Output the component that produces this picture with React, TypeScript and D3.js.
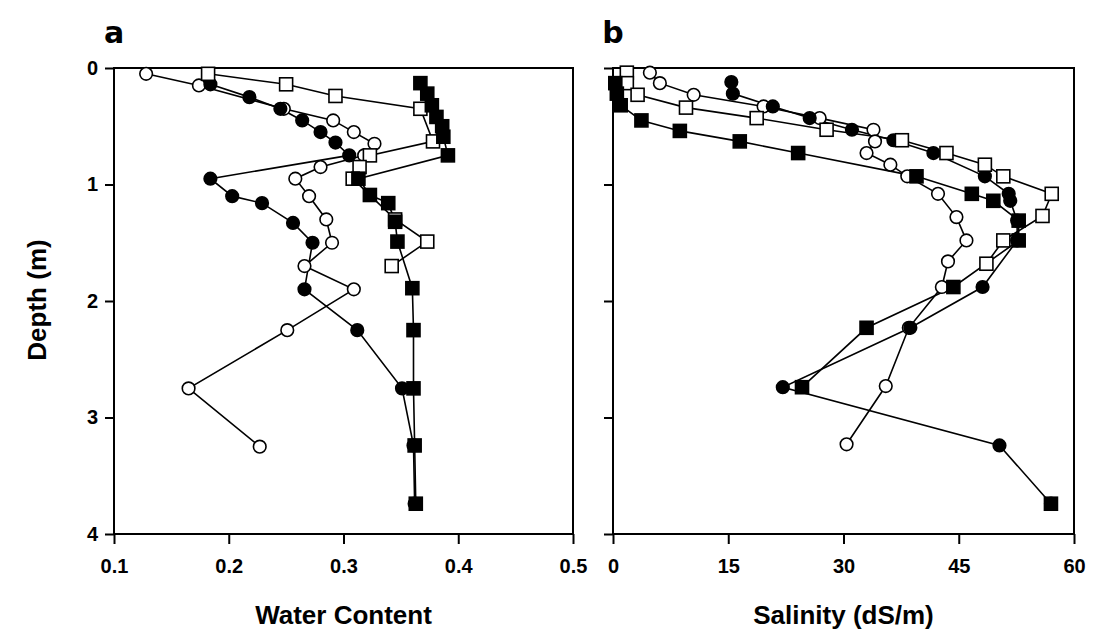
import React, { useEffect, useRef } from 'react';
import * as d3 from 'd3';

// axis ticks
const depthTicks = [0, 1, 2, 3, 4];
const waterTicks = [0.1, 0.2, 0.3, 0.4, 0.5];
const salinityTicks = [0, 15, 30, 45, 60];

// panel a: water content profiles, [depth (m), value]
const wcOpenCircles: [number, number | null][] = [
  [0.05, 0.128], [0.15, 0.174], [0.35, 0.248], [0.45, 0.291], [0.55, 0.309],
  [0.65, 0.327], [0.75, 0.318], [0.85, 0.28], [0.95, 0.258], [1.1, 0.27],
  [1.3, 0.285], [1.5, 0.29], [1.7, 0.266], [1.9, 0.309], [2.25, 0.251],
  [2.75, 0.165], [3.25, 0.227],
];
const wcOpenSquares: [number, number | null][] = [
  [0.05, 0.182], [0.14, 0.25], [0.24, 0.293], [0.35, 0.367], [0.63, 0.378],
  [0.75, 0.323], [0.85, 0.314], [0.95, 0.308], [1.3, 0.345], [1.49, 0.373],
  [1.7, 0.342],
];
const wcFilledCircles: [number, number | null][] = [
  [0.14, 0.184], [0.25, 0.218], [0.35, 0.245], [0.45, 0.264], [0.55, 0.28],
  [0.64, 0.293], [0.75, 0.305], [0.95, 0.184], [1.1, 0.203], [1.16, 0.229],
  [1.33, 0.256], [1.5, 0.273], [1.9, 0.266], [2.25, 0.312], [2.75, 0.351],
  [3.24, 0.361], [3.74, 0.362],
];
const wcFilledSquares: [number, number | null][] = [
  [0.13, 0.367], [0.22, 0.373], [0.32, 0.377], [0.42, 0.381], [0.5, 0.386],
  [0.59, 0.387], [0.75, 0.391], [0.95, 0.313], [1.09, 0.323], [1.16, 0.339],
  [1.32, 0.345], [1.49, 0.347], [1.89, 0.36], [2.25, 0.361], [2.75, 0.361],
  [3.24, 0.362], [3.74, 0.363],
];

// panel b: salinity profiles (dS/m)
const salOpenCircles: [number, number | null][] = [
  [0.04, 4.8], [0.13, 6.1], [0.23, 10.5], [0.33, 19.6], [0.43, 26.9],
  [0.53, 33.9], [0.63, 34.1], [0.73, 33.0], [0.83, 36.1], [0.93, 38.3],
  [1.08, 42.3], [1.28, 44.7], [1.48, 46.0], [1.66, 43.6], [1.88, 42.8],
  [2.23, 38.5], [2.73, 35.5], [3.23, 30.4],
];
const salOpenSquares: [number, number | null][] = [
  [0.04, 1.8], [0.13, 1.8], [0.23, 3.2], [0.34, 9.5], [0.43, 18.7],
  [0.53, 27.8], [0.62, 37.6], [0.73, 43.4], [0.83, 48.4], [0.93, 50.8],
  [1.08, 57.1], [1.27, 55.9], [1.48, 50.8], [1.68, 48.6],
];
const salFilledCircles: [number, number | null][] = [
  [0.12, 15.4], [0.22, 15.6], [0.33, 20.8], [0.43, 25.6], [0.53, 31.1],
  [0.62, 36.5], [0.73, 41.7], [0.93, 48.4], [1.08, 51.5], [1.14, 51.7],
  [1.31, 52.6], [1.48, 52.6], [1.88, 48.1], [2.23, 38.7], [2.74, 22.1],
  [3.24, 50.3], [3.74, 57.0],
];
const salFilledSquares: [number, number | null][] = [
  [0.13, 0.3], [0.22, 0.5], [0.32, 1.0], [0.45, 3.7], [0.54, 8.7],
  [0.63, 16.5], [0.73, 24.1], [0.93, 39.5], [1.08, 46.7], [1.14, 49.5],
  [1.31, 52.8], [1.48, 52.8], [1.88, 44.3], [2.23, 33.0], [2.74, 24.6],
  [3.24, null], [3.74, 57.0],
];

const FONT = 'Liberation Sans, Arial, Helvetica, sans-serif';
const TOP = 68;
const BOTTOM = 534;

type Series = { data: [number, number | null][]; shape: 'circle' | 'square'; filled: boolean };

function drawPanel(
  svg: d3.Selection<SVGSVGElement, unknown, null, undefined>,
  opts: {
    left: number; right: number; domain: [number, number]; ticks: number[];
    fmt: (d: number) => string; title: string; letter: string; depthLabels: boolean;
    series: Series[];
  }
) {
  const x = d3.scaleLinear().domain(opts.domain).range([opts.left, opts.right]);
  const y = d3.scaleLinear().domain([0, 4]).range([TOP, BOTTOM]);
  const g = svg.append('g');

  // frame
  g.append('rect')
    .attr('x', opts.left).attr('y', TOP)
    .attr('width', opts.right - opts.left).attr('height', BOTTOM - TOP)
    .attr('fill', 'none').attr('stroke', '#000').attr('stroke-width', 2);

  const xAxis = g.append('g')
    .attr('transform', `translate(0,${BOTTOM})`)
    .call(d3.axisBottom(x).tickValues(opts.ticks).tickSize(10).tickPadding(15).tickFormat((d) => opts.fmt(+d)));
  const yAxis = g.append('g')
    .attr('transform', `translate(${opts.left},0)`)
    .call(d3.axisLeft(y).tickValues(depthTicks).tickSize(9).tickPadding(7)
      .tickFormat((d) => (opts.depthLabels ? String(d) : '')));
  [xAxis, yAxis].forEach((ax) => {
    ax.select('.domain').remove();
    ax.selectAll('line').attr('stroke', '#000').attr('stroke-width', 2);
    ax.selectAll('text').attr('fill', '#000').attr('font-family', FONT)
      .attr('font-weight', 'bold').attr('font-size', 20);
  });

  const line = d3.line<[number, number | null]>()
    .defined((d) => d[1] != null)
    .x((d) => x(d[1] as number))
    .y((d) => y(d[0]));

  opts.series.forEach((s) => {
    g.append('path').attr('d', line(s.data)).attr('fill', 'none')
      .attr('stroke', '#000').attr('stroke-width', 1.6);
  });

  opts.series.forEach((s) => {
    const pts = s.data.filter((d) => d[1] != null);
    const fill = s.filled ? '#000' : '#fff';
    if (s.shape === 'circle') {
      g.selectAll(null).data(pts).enter().append('circle')
        .attr('cx', (d) => x(d[1] as number)).attr('cy', (d) => y(d[0]))
        .attr('r', 6.3).attr('fill', fill).attr('stroke', '#000').attr('stroke-width', 1.6);
    } else {
      g.selectAll(null).data(pts).enter().append('rect')
        .attr('x', (d) => x(d[1] as number) - 6.5).attr('y', (d) => y(d[0]) - 6.5)
        .attr('width', 13).attr('height', 13)
        .attr('fill', fill).attr('stroke', '#000').attr('stroke-width', 1.6);
    }
  });

  g.append('text')
    .attr('x', (opts.left + opts.right) / 2).attr('y', 624)
    .attr('text-anchor', 'middle').attr('font-family', FONT)
    .attr('font-weight', 'bold').attr('font-size', 26).text(opts.title);

  g.append('text')
    .attr('x', opts.left).attr('y', 43)
    .attr('text-anchor', 'middle').attr('font-family', 'DejaVu Sans, sans-serif')
    .attr('font-weight', 'bold').attr('font-size', 30).text(opts.letter);
}

export default function App() {
  const ref = useRef<SVGSVGElement>(null);

  useEffect(() => {
    const svg = d3.select(ref.current as SVGSVGElement);
    svg.selectAll('*').remove();

    drawPanel(svg, {
      left: 114, right: 573, domain: [0.1, 0.5], ticks: waterTicks,
      fmt: (d) => d.toFixed(1), title: 'Water Content', letter: 'a', depthLabels: true,
      series: [
        { data: wcOpenCircles, shape: 'circle', filled: false },
        { data: wcFilledCircles, shape: 'circle', filled: true },
        { data: wcOpenSquares, shape: 'square', filled: false },
        { data: wcFilledSquares, shape: 'square', filled: true },
      ],
    });

    drawPanel(svg, {
      left: 613, right: 1074, domain: [0, 60], ticks: salinityTicks,
      fmt: (d) => String(d), title: 'Salinity (dS/m)', letter: 'b', depthLabels: false,
      series: [
        { data: salOpenCircles, shape: 'circle', filled: false },
        { data: salFilledCircles, shape: 'circle', filled: true },
        { data: salOpenSquares, shape: 'square', filled: false },
        { data: salFilledSquares, shape: 'square', filled: true },
      ],
    });

    svg.append('text')
      .attr('transform', 'translate(46,300) rotate(-90)')
      .attr('text-anchor', 'middle').attr('font-family', FONT)
      .attr('font-weight', 'bold').attr('font-size', 26).text('Depth (m)');
  }, []);

  return (
    <svg
      ref={ref}
      width={1094}
      height={634}
      style={{ position: 'absolute', left: 0, top: 0, background: '#fff' }}
    />
  );
}
